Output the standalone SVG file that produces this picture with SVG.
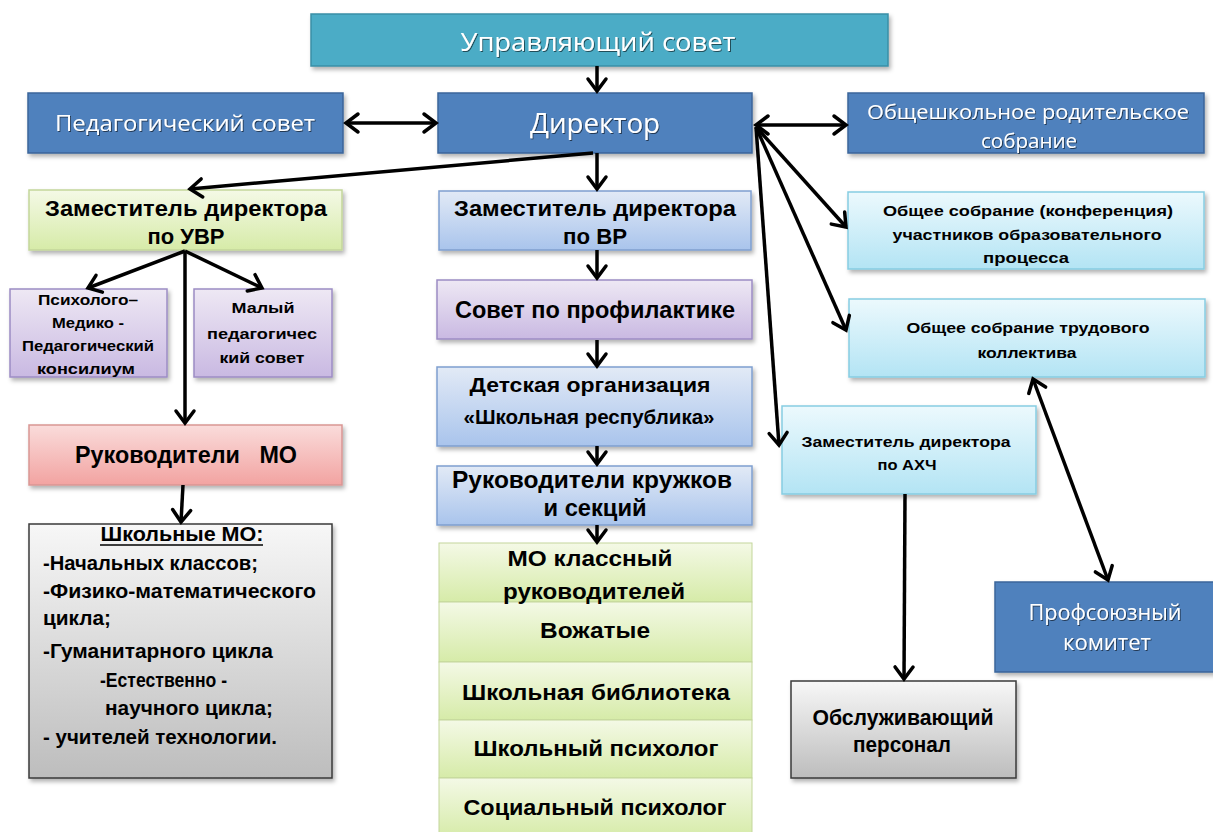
<svg xmlns="http://www.w3.org/2000/svg" width="1213" height="832" viewBox="0 0 1213 832">
<style>
.b{font-family:"Liberation Sans Narrow","Liberation Sans",Arial,sans-serif;font-weight:bold;fill:#000;text-anchor:middle}
.l{text-anchor:start}
.w{font-family:"Open Sans","Liberation Sans",Arial,sans-serif;fill:#fff;text-anchor:middle;filter:url(#ts)}
.box{filter:url(#sh);stroke-width:1.5}
.arr{fill:none;stroke:#000;stroke-width:3.5;marker-end:url(#ah)}
.dbl{marker-start:url(#ahs)}
</style>
<defs>
<filter id="sh" x="-10%" y="-10%" width="120%" height="130%"><feDropShadow dx="2" dy="3" stdDeviation="2" flood-color="#000" flood-opacity="0.3"/></filter>
<filter id="ts" x="-5%" y="-20%" width="110%" height="140%"><feDropShadow dx="1" dy="1" stdDeviation="0.6" flood-color="#000" flood-opacity="0.55"/></filter>
<marker id="ah" markerUnits="userSpaceOnUse" markerWidth="24" markerHeight="24" viewBox="0 0 24 24" refX="20" refY="12" orient="auto"><path d="M8,3 L20,12 L8,21" fill="none" stroke="#000" stroke-width="3.5" stroke-linecap="round" stroke-linejoin="miter"/></marker>
<marker id="ahs" markerUnits="userSpaceOnUse" markerWidth="24" markerHeight="24" viewBox="0 0 24 24" refX="4" refY="12" orient="auto"><path d="M16,3 L4,12 L16,21" fill="none" stroke="#000" stroke-width="3.5" stroke-linecap="round"/></marker>
<linearGradient id="gGreen" x1="0" y1="0" x2="0" y2="1"><stop offset="0" stop-color="#F4F9E6"/><stop offset="1" stop-color="#D6EBA8"/></linearGradient>
<linearGradient id="gBlue" x1="0" y1="0" x2="0" y2="1"><stop offset="0" stop-color="#E2EAF6"/><stop offset="1" stop-color="#A9C4EC"/></linearGradient>
<linearGradient id="gPurple" x1="0" y1="0" x2="0" y2="1"><stop offset="0" stop-color="#EEE8F4"/><stop offset="1" stop-color="#C9B9E2"/></linearGradient>
<linearGradient id="gPink" x1="0" y1="0" x2="0" y2="1"><stop offset="0" stop-color="#FADCDB"/><stop offset="1" stop-color="#F2A3A1"/></linearGradient>
<linearGradient id="gGray" x1="0" y1="0" x2="0" y2="1"><stop offset="0" stop-color="#F7F7F7"/><stop offset="1" stop-color="#BDBDBD"/></linearGradient>
<linearGradient id="gCyan" x1="0" y1="0" x2="0" y2="1"><stop offset="0" stop-color="#ECF9FD"/><stop offset="1" stop-color="#B3E4F4"/></linearGradient>
</defs>
<rect width="1213" height="832" fill="#fff"/>

<g id="n-upr"><rect class="box" x="311" y="14" width="577" height="52" fill="#4BACC6" stroke="#3A8FA6"/>
<text class="w" x="598" y="51" font-size="26" textLength="275" lengthAdjust="spacingAndGlyphs">Управляющий совет</text></g>

<g id="n-ped"><rect class="box" x="28" y="93" width="315" height="60" fill="#4F81BD" stroke="#3B659A"/>
<text class="w" x="185" y="131" font-size="22" textLength="260" lengthAdjust="spacingAndGlyphs">Педагогический совет</text></g>

<g id="n-dir"><rect class="box" x="438" y="93" width="314" height="60" fill="#4F81BD" stroke="#3B659A"/>
<text class="w" x="595" y="133" font-size="28" textLength="130" lengthAdjust="spacingAndGlyphs">Директор</text></g>

<g id="n-rod"><rect class="box" x="848" y="93" width="356" height="60" fill="#4F81BD" stroke="#3B659A"/>
<text class="w" x="1028" y="119" font-size="20" textLength="322" lengthAdjust="spacingAndGlyphs">Общешкольное родительское</text>
<text class="w" x="1029" y="148" font-size="20" textLength="96" lengthAdjust="spacingAndGlyphs">собрание</text></g>

<g id="n-uvr"><rect class="box" x="29" y="190" width="313" height="60" fill="url(#gGreen)" stroke="#C3D69B"/>
<text class="b" x="186" y="216" font-size="22" textLength="282" lengthAdjust="spacingAndGlyphs">Заместитель директора</text>
<text class="b" x="186" y="244" font-size="22" textLength="77" lengthAdjust="spacingAndGlyphs">по УВР</text></g>

<g id="n-vr"><rect class="box" x="439" y="191" width="312" height="59" fill="url(#gBlue)" stroke="#7F9FCF"/>
<text class="b" x="595" y="216" font-size="22" textLength="282" lengthAdjust="spacingAndGlyphs">Заместитель директора</text>
<text class="b" x="595" y="244" font-size="22" textLength="64" lengthAdjust="spacingAndGlyphs">по ВР</text></g>

<g id="n-pmpk"><rect class="box" x="10" y="289" width="157" height="88" fill="url(#gPurple)" stroke="#9C8CC4"/>
<text class="b" x="88" y="305" font-size="14" textLength="100" lengthAdjust="spacingAndGlyphs">Психолого–</text>
<text class="b" x="88" y="328" font-size="14" textLength="72" lengthAdjust="spacingAndGlyphs">Медико -</text>
<text class="b" x="88" y="351" font-size="14" textLength="132" lengthAdjust="spacingAndGlyphs">Педагогический</text>
<text class="b" x="86" y="374" font-size="14" textLength="98" lengthAdjust="spacingAndGlyphs">консилиум</text></g>

<g id="n-mps"><rect class="box" x="194" y="289" width="138" height="88" fill="url(#gPurple)" stroke="#9C8CC4"/>
<text class="b" x="263" y="313" font-size="15" textLength="63" lengthAdjust="spacingAndGlyphs">Малый</text>
<text class="b" x="262" y="339" font-size="15" textLength="110" lengthAdjust="spacingAndGlyphs">педагогичес</text>
<text class="b" x="262" y="363" font-size="15" textLength="85" lengthAdjust="spacingAndGlyphs">кий совет</text></g>

<g id="n-rukmo"><rect class="box" x="29" y="425" width="313" height="60" fill="url(#gPink)" stroke="#D99694"/>
<text class="b" x="186" y="463" font-size="24" textLength="222" lengthAdjust="spacingAndGlyphs" xml:space="preserve">Руководители   МО</text></g>

<g id="n-shmo"><rect class="box" x="29" y="524" width="303" height="254" fill="url(#gGray)" stroke="#3A3A3A"/>
<text class="b" x="182" y="541" font-size="20" textLength="163" lengthAdjust="spacingAndGlyphs">Школьные МО:</text>
<line x1="100" y1="545" x2="263" y2="545" stroke="#000" stroke-width="1.6"/>
<text class="b l" x="43" y="570" font-size="20" textLength="215" lengthAdjust="spacingAndGlyphs">-Начальных классов;</text>
<text class="b l" x="43" y="598" font-size="20" textLength="273" lengthAdjust="spacingAndGlyphs">-Физико-математического</text>
<text class="b l" x="43" y="625" font-size="20" textLength="68" lengthAdjust="spacingAndGlyphs">цикла;</text>
<text class="b l" x="43" y="658" font-size="20" textLength="230" lengthAdjust="spacingAndGlyphs">-Гуманитарного цикла</text>
<text class="b l" x="100" y="687" font-size="20" textLength="127" lengthAdjust="spacingAndGlyphs">-Естественно -</text>
<text class="b l" x="105" y="715" font-size="20" textLength="168" lengthAdjust="spacingAndGlyphs">научного цикла;</text>
<text class="b l" x="43" y="744" font-size="20" textLength="234" lengthAdjust="spacingAndGlyphs">- учителей технологии.</text></g>

<g id="n-sovprof"><rect class="box" x="437" y="280" width="315" height="59" fill="url(#gPurple)" stroke="#9C8CC4"/>
<text class="b" x="595" y="318" font-size="24" textLength="280" lengthAdjust="spacingAndGlyphs">Совет по профилактике</text></g>

<g id="n-det"><rect class="box" x="437" y="367" width="315" height="79" fill="url(#gBlue)" stroke="#7F9FCF"/>
<text class="b" x="590" y="392" font-size="20" textLength="241" lengthAdjust="spacingAndGlyphs">Детская организация</text>
<text class="b" x="589" y="424" font-size="20" textLength="251" lengthAdjust="spacingAndGlyphs">«Школьная республика»</text></g>

<g id="n-kruzh"><rect class="box" x="437" y="466" width="315" height="59" fill="url(#gBlue)" stroke="#7F9FCF"/>
<text class="b" x="592" y="488" font-size="23" textLength="280" lengthAdjust="spacingAndGlyphs">Руководители кружков</text>
<text class="b" x="595" y="516" font-size="23" textLength="103" lengthAdjust="spacingAndGlyphs">и секций</text></g>

<g id="n-stack">
<rect x="439" y="543" width="313" height="59" fill="url(#gGreen)" stroke="#C3D69B"/>
<rect x="439" y="602" width="313" height="60" fill="url(#gGreen)" stroke="#C3D69B"/>
<rect x="439" y="662" width="313" height="58" fill="url(#gGreen)" stroke="#C3D69B"/>
<rect x="439" y="720" width="313" height="58" fill="url(#gGreen)" stroke="#C3D69B"/>
<rect x="439" y="778" width="313" height="60" fill="url(#gGreen)" stroke="#C3D69B"/>
<text class="b" x="590" y="566" font-size="22" textLength="165" lengthAdjust="spacingAndGlyphs">МО классный</text>
<text class="b" x="594" y="599" font-size="22" textLength="182" lengthAdjust="spacingAndGlyphs">руководителей</text>
<text class="b" x="595" y="638" font-size="22" textLength="110" lengthAdjust="spacingAndGlyphs">Вожатые</text>
<text class="b" x="596" y="700" font-size="22" textLength="268" lengthAdjust="spacingAndGlyphs">Школьная библиотека</text>
<text class="b" x="596" y="756" font-size="22" textLength="245" lengthAdjust="spacingAndGlyphs">Школьный психолог</text>
<text class="b" x="595" y="815" font-size="22" textLength="263" lengthAdjust="spacingAndGlyphs">Социальный психолог</text></g>

<g id="n-konf"><rect class="box" x="848" y="192" width="356" height="77" fill="url(#gCyan)" stroke="#86CDE2"/>
<text class="b" x="1028" y="216" font-size="15" textLength="290" lengthAdjust="spacingAndGlyphs">Общее собрание (конференция)</text>
<text class="b" x="1027" y="240" font-size="15" textLength="269" lengthAdjust="spacingAndGlyphs">участников образовательного</text>
<text class="b" x="1026" y="263" font-size="15" textLength="86" lengthAdjust="spacingAndGlyphs">процесса</text></g>

<g id="n-trud"><rect class="box" x="849" y="299" width="356" height="78" fill="url(#gCyan)" stroke="#86CDE2"/>
<text class="b" x="1028" y="333" font-size="15" textLength="243" lengthAdjust="spacingAndGlyphs">Общее собрание трудового</text>
<text class="b" x="1027" y="358" font-size="15" textLength="99" lengthAdjust="spacingAndGlyphs">коллектива</text></g>

<g id="n-ahch"><rect class="box" x="782" y="406" width="254" height="88" fill="url(#gCyan)" stroke="#86CDE2"/>
<text class="b" x="906" y="447" font-size="15" textLength="209" lengthAdjust="spacingAndGlyphs">Заместитель директора</text>
<text class="b" x="907" y="470" font-size="15" textLength="59" lengthAdjust="spacingAndGlyphs">по АХЧ</text></g>

<g id="n-prof"><rect class="box" x="995" y="582" width="222" height="90" fill="#4F81BD" stroke="#3B659A"/>
<text class="w" x="1105" y="620" font-size="22" textLength="153" lengthAdjust="spacingAndGlyphs">Профсоюзный</text>
<text class="w" x="1107" y="650" font-size="22" textLength="88" lengthAdjust="spacingAndGlyphs">комитет</text></g>

<g id="n-obsl"><rect class="box" x="791" y="681" width="225" height="97" fill="url(#gGray)" stroke="#3A3A3A"/>
<text class="b" x="903" y="725" font-size="22" textLength="181" lengthAdjust="spacingAndGlyphs">Обслуживающий</text>
<text class="b" x="902" y="752" font-size="22" textLength="98" lengthAdjust="spacingAndGlyphs">персонал</text></g>

<g id="connectors">
<path class="arr" d="M597,66 L597,91"/>
<path class="arr dbl" d="M346,123 L436,123"/>
<path class="arr dbl" d="M756,125 L846,125"/>
<path class="arr" d="M593,153 L190,189"/>
<path class="arr" d="M597,153 L597,189"/>
<path class="arr" d="M597,250 L597,278"/>
<path class="arr" d="M597,340 L597,366"/>
<path class="arr" d="M597,446 L597,464"/>
<path class="arr" d="M597,525 L597,542"/>
<path class="arr" d="M185,251 L88,288"/>
<path class="arr" d="M185,251 L262,288"/>
<path class="arr" d="M185,251 L185,423"/>
<path class="arr" d="M183,485 L181,522"/>
<path class="arr" d="M756,127 L846,227"/>
<path class="arr" d="M756,127 L846,330"/>
<path class="arr" d="M756,127 L779,445"/>
<path class="arr" d="M905,494 L904,679"/>
<path class="arr dbl" d="M1033,379 L1108,580"/>
</g>
</svg>
